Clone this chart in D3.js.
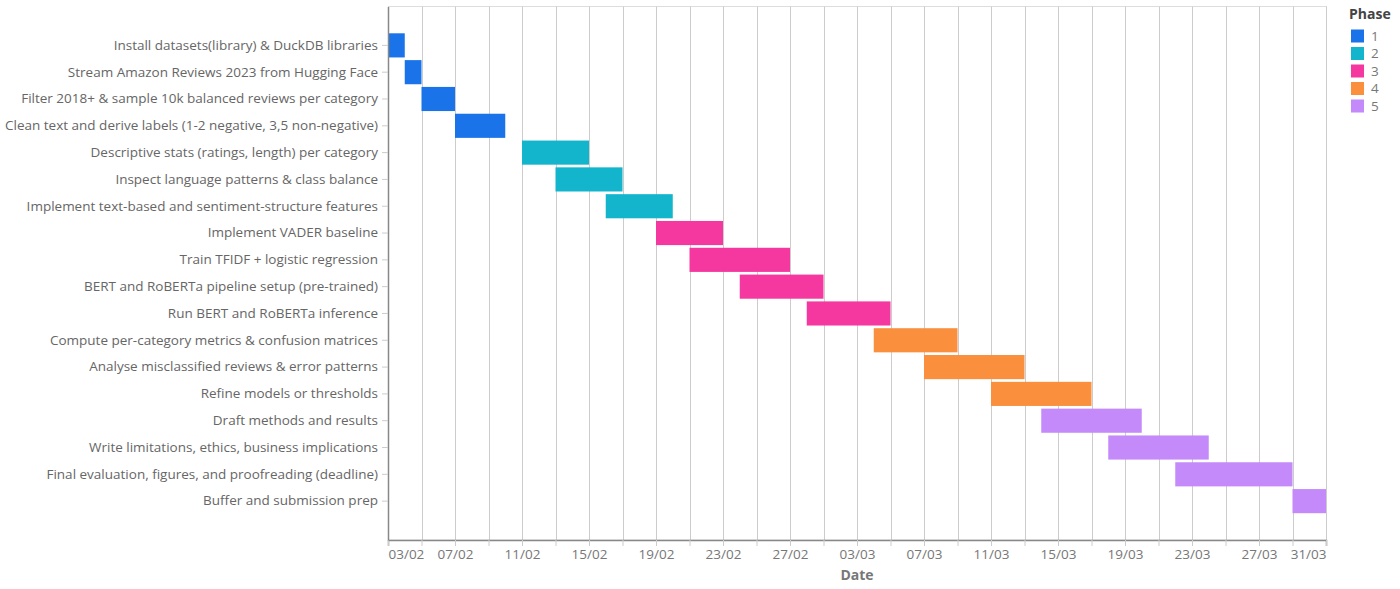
<!DOCTYPE html>
<html>
<head>
<meta charset="utf-8">
<script src="https://cdn.jsdelivr.net/npm/d3@7"></script>
<style>
	body { margin: 0; background: #fff; }
	svg text { font-family: "Open Sans", "Noto Sans", sans-serif; }
</style>
</head>
<body>
<svg id="gantt"></svg>
<script>
// project plan as a gantt chart

let tasks = [
	"Install datasets(library) & DuckDB libraries",
	"Stream Amazon Reviews 2023 from Hugging Face",
	"Filter 2018+ & sample 10k balanced reviews per category",
	"Clean text and derive labels (1-2 negative, 3,5 non-negative)",
	"Descriptive stats (ratings, length) per category",
	"Inspect language patterns & class balance",
	"Implement text-based and sentiment-structure features",
	"Implement VADER baseline",
	"Train TFIDF + logistic regression",
	"BERT and RoBERTa pipeline setup (pre-trained)",
	"Run BERT and RoBERTa inference",
	"Compute per-category metrics & confusion matrices",
	"Analyse misclassified reviews & error patterns",
	"Refine models or thresholds",
	"Draft methods and results",
	"Write limitations, ethics, business implications",
	"Final evaluation, figures, and proofreading (deadline)",
	"Buffer and submission prep"
];
let starts = ["2025-02-03", "2025-02-04", "2025-02-05", "2025-02-07", "2025-02-11", "2025-02-13",
	"2025-02-16", "2025-02-19", "2025-02-21", "2025-02-24", "2025-02-28", "2025-03-04",
	"2025-03-07", "2025-03-11", "2025-03-14", "2025-03-18", "2025-03-22", "2025-03-29"];
let ends = ["2025-02-04", "2025-02-05", "2025-02-07", "2025-02-10", "2025-02-15", "2025-02-17",
	"2025-02-20", "2025-02-23", "2025-02-27", "2025-03-01", "2025-03-05", "2025-03-09",
	"2025-03-13", "2025-03-17", "2025-03-20", "2025-03-24", "2025-03-29", "2025-03-31"];
let phases = [1, 1, 1, 1, 2, 2, 2, 3, 3, 3, 3, 4, 4, 4, 5, 5, 5, 5];

let phaseNames = [1, 2, 3, 4, 5];
let phaseColors = ["#1a73e8", "#12b5cb", "#f538a0", "#fa903e", "#c58af9"];

let parse = d3.utcParse("%Y-%m-%d");
let rows = tasks.map((t, i) => ({task: t, start: parse(starts[i]), end: parse(ends[i]), phase: phases[i]}));

let width = 1400, height = 589;
let plotLeft = 388, plotRight = 1326, plotTop = 6.5, plotBottom = 540;

let svg = d3.select("#gantt").attr("width", width).attr("height", height);

let x = d3.scaleUtc()
	.domain([parse("2025-02-03"), parse("2025-03-31")])
	.range([plotLeft, plotRight]);

let y = d3.scaleBand()
	.domain(tasks)
	.range([plotTop, plotBottom])
	.paddingInner(0.1)
	.paddingOuter(1.0);

let color = d3.scaleOrdinal().domain(phaseNames).range(phaseColors);

let tickDays = d3.utcDay.range(parse("2025-02-03"), d3.utcDay.offset(parse("2025-03-31"), 1), 2);

// view border
svg.append("rect")
	.attr("x", plotLeft + 0.5).attr("y", plotTop)
	.attr("width", plotRight - plotLeft).attr("height", plotBottom - plotTop)
	.attr("fill", "none").attr("stroke", "#ddd");

// grid
svg.append("g").selectAll("line")
	.data(tickDays)
	.join("line")
	.attr("x1", d => Math.round(x(d)) + 0.5).attr("x2", d => Math.round(x(d)) + 0.5)
	.attr("y1", plotTop).attr("y2", plotBottom)
	.attr("stroke", "#ccc");

// bars
svg.append("g").selectAll("rect")
	.data(rows)
	.join("rect")
	.attr("x", d => x(d.start))
	.attr("width", d => x(d.end) - x(d.start))
	.attr("y", d => y(d.task))
	.attr("height", y.bandwidth())
	.attr("fill", d => color(d.phase));

// x axis
let fmt = d3.utcFormat("%d/%m");
let xAxis = svg.append("g")
	.attr("transform", "translate(0," + plotBottom + ")")
	.call(d3.axisBottom(x).tickValues(tickDays).tickSize(6).tickPadding(3)
		.tickFormat((d, i) => i % 2 == 0 ? fmt(d) : ""));
xAxis.attr("font-family", null);
xAxis.select(".domain").attr("stroke", "#888").attr("stroke-width", 1.5);
xAxis.selectAll(".tick line").attr("stroke", "#ccc");
xAxis.selectAll(".tick text")
	.attr("fill", "#777")
	.style("font-size", "13.5px")
	.attr("text-anchor", (d, i) => i == 0 ? "start" : (i == tickDays.length - 1 ? "end" : "middle"));

svg.append("text")
	.attr("x", (plotLeft + plotRight) / 2)
	.attr("y", 580)
	.attr("text-anchor", "middle")
	.attr("fill", "#777")
	.style("font-size", "14px")
	.style("font-weight", "bold")
	.text("Date");

// y axis
let yAxis = svg.append("g")
	.attr("transform", "translate(" + plotLeft + ",0)")
	.call(d3.axisLeft(y).tickSize(6).tickPadding(4).tickSizeOuter(0));
yAxis.attr("font-family", null);
yAxis.select(".domain").attr("stroke", "#888").attr("stroke-width", 1.5);
yAxis.selectAll(".tick line").attr("stroke", "#ccc");
yAxis.selectAll(".tick text")
	.attr("fill", "#666")
	.style("font-size", "13.5px");

// legend
let legend = svg.append("g").attr("transform", "translate(1349,0)");
legend.append("text")
	.attr("x", 0).attr("y", 19)
	.attr("fill", "#444")
	.style("font-size", "14px")
	.style("font-weight", "bold")
	.text("Phase");

let items = legend.selectAll("g.item")
	.data(phaseNames)
	.join("g")
	.attr("class", "item")
	.attr("transform", (d, i) => "translate(0," + (29.5 + i * 17.5) + ")");
items.append("rect")
	.attr("x", 2).attr("y", 0)
	.attr("width", 13).attr("height", 13)
	.attr("fill", d => color(d));
items.append("text")
	.attr("x", 22).attr("y", 6.5)
	.attr("dy", "0.35em")
	.attr("fill", "#777")
	.style("font-size", "13.5px")
	.text(d => d);
</script>
</body>
</html>
